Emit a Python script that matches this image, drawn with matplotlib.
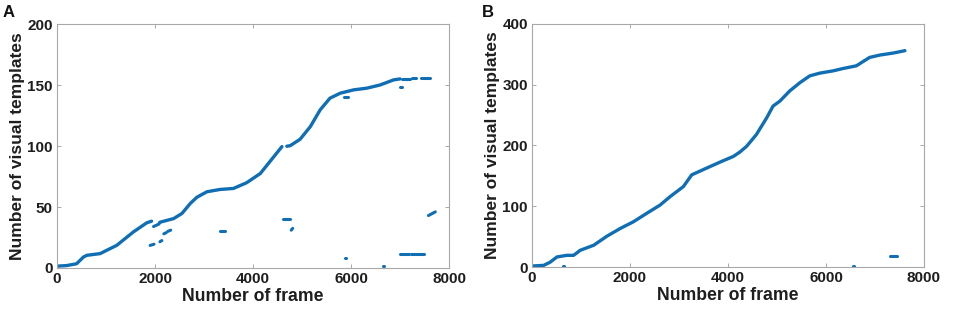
import numpy as np
import matplotlib
matplotlib.use("Agg")
import matplotlib.pyplot as plt

plt.rcParams['font.family'] = ['Liberation Sans', 'DejaVu Sans']
plt.rcParams['font.weight'] = 'bold'

BLUE = '#0F6EB4'

# Panel A: main curve (frame, templates); NaN marks a gap in the trace
a_frames = [0, 200, 400, 540, 610, 880, 1220, 1560, 1830, 1930, 1960,
            2090, 2100, 2380, 2550, 2720, 2855, 3060, 3330, 3600, 3870, 4150,
            4420, 4590, 4640, 4690, 4760, 4960, 5170, 5370, 5570, 5780, 6050, 6320,
            6590, 6870, 7000]
a_vals = [1.5, 2, 3.5, 9, 10.4, 11.8, 18.6, 29.6, 37, 38.4, np.nan,
          37, 37.5, 40.5, 44.7, 52.9, 58, 62.5, 64.4, 65.2, 69.9, 77.5,
          91, 99.5, np.nan, 99.8, 100.3, 105.5, 115.9, 129.6, 139.2, 143.3, 146, 147.4,
          150, 154.2, 155]
# Panel A: scattered short segments (x start, x end, y start, y end)
a_seg_x0 = [1900, 1970, 2100, 2180, 2260, 3330, 4620, 4780, 5870, 6650, 7000, 7230, 7580, 7050, 7250, 7420, 7000, 5860]
a_seg_x1 = [1980, 2080, 2140, 2230, 2320, 3430, 4760, 4810, 5900, 6680, 7180, 7480, 7720, 7200, 7320, 7620, 7040, 5930]
a_seg_y0 = [18.5, 34, 21.5, 28, 30, 30, 40, 31, 8.2, 1.5, 11.2, 11.2, 43, 155, 155.5, 156, 148.5, 140]
a_seg_y1 = [19.5, 36, 22.5, 29, 31, 30, 40, 32.5, 8.2, 1.5, 11.2, 11.2, 46, 155, 155.5, 156, 148.5, 140]

# Panel B: main curve
b_frames = [0, 240, 370, 510, 710, 850, 985, 1260, 1530, 1800,
            2070, 2340, 2615, 2820, 3090, 3260, 3565, 3840, 4110, 4240,
            4380, 4580, 4790, 4920, 5060, 5260, 5470, 5670, 5870, 6150,
            6350, 6620, 6890, 7100, 7370, 7610]
b_vals = [1.7, 2.8, 8, 16.6, 19.3, 19.3, 27.6, 35.9, 50.8, 63.4,
          74.5, 88.3, 102, 115.9, 132.4, 151.7, 162.8, 172.7, 182, 189,
          198.6, 218, 245.5, 264.8, 273, 289.7, 303.4, 314.5, 318.9, 322.8,
          326.6, 331, 344.8, 348.7, 352, 355.9]
b_seg_x0 = [7300, 640, 6550]
b_seg_x1 = [7440, 660, 6570]
b_seg_y0 = [18.2, 1.5, 1.5]
b_seg_y1 = [18.2, 1.5, 1.5]

fig = plt.figure(figsize=(9.58, 3.14), dpi=100)
axA = fig.add_axes([0.0595, 0.1465, 0.4092, 0.777])
axB = fig.add_axes([0.5553, 0.1495, 0.4092, 0.7745])

def style(ax, ymax, yticks):
    ax.set_xlim(0, 8000)
    ax.set_ylim(0, ymax)
    ax.set_xticks([0, 2000, 4000, 6000, 8000])
    ax.set_yticks(yticks)
    for s in ax.spines.values():
        s.set_color('#A8A8A8')
        s.set_linewidth(0.8)
    ax.tick_params(direction='in', length=3, width=0.7, color='#A8A8A8',
                   top=True, right=True, labelsize=11, labelcolor='#1E1E1E', pad=3)
    for lab in ax.get_xticklabels() + ax.get_yticklabels():
        lab.set_fontweight('bold')
    ax.set_xlabel('Number of frame', fontsize=12.7, fontweight='bold', color='#1E1E1E', labelpad=1)
    ax.set_ylabel('Number of visual templates', fontsize=12.5, fontweight='bold', color='#1E1E1E', labelpad=2)

axA.plot(a_frames, a_vals, color=BLUE, lw=2.4, solid_capstyle='round')
for x0, x1, y0, y1 in zip(a_seg_x0, a_seg_x1, a_seg_y0, a_seg_y1):
    axA.plot([x0, x1], [y0, y1], color=BLUE, lw=2.2, solid_capstyle='round')
style(axA, 200, [0, 50, 100, 150, 200])

axB.plot(b_frames, b_vals, color=BLUE, lw=2.4, solid_capstyle='round')
for x0, x1, y0, y1 in zip(b_seg_x0, b_seg_x1, b_seg_y0, b_seg_y1):
    axB.plot([x0, x1], [y0, y1], color=BLUE, lw=2.2, solid_capstyle='round')
style(axB, 400, [0, 100, 200, 300, 400])

fig.text(0.003, 0.985, 'A', fontsize=12, fontweight='bold', va='top', ha='left', color='#111111')
fig.text(0.503, 0.985, 'B', fontsize=12, fontweight='bold', va='top', ha='left', color='#111111')

fig.savefig('out.png', dpi=100)
